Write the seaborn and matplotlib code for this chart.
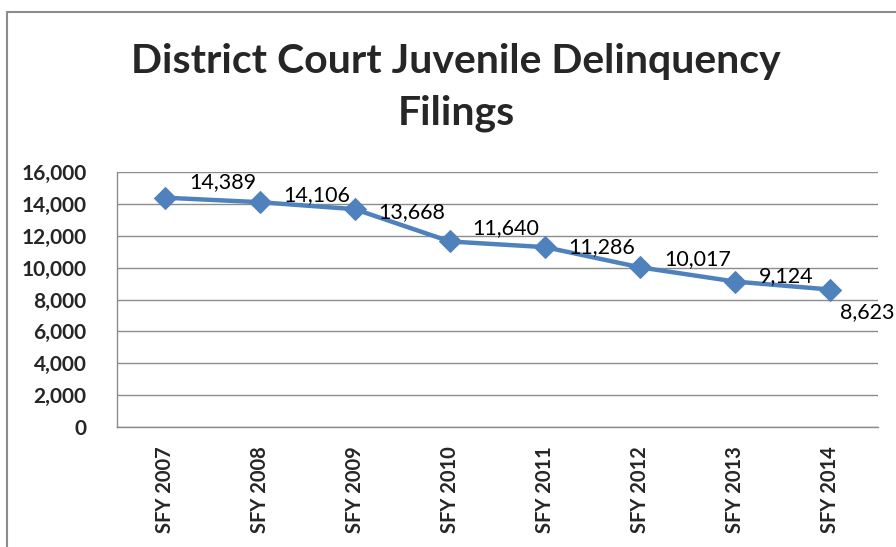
import matplotlib
matplotlib.use("Agg")
import matplotlib.pyplot as plt
from matplotlib.lines import Line2D
import seaborn as sns
import pandas as pd

# ---------------- Data ----------------
years = ["SFY 2007", "SFY 2008", "SFY 2009", "SFY 2010",
         "SFY 2011", "SFY 2012", "SFY 2013", "SFY 2014"]
filings = [14389, 14106, 13668, 11640, 11286, 10017, 9124, 8623]

# label nudges (points) as placed in the original chart
label_dx = [18, 17, 17, 16, 17, 17, 17, 7]
label_dy = [11, 5, -2, 10, 0, 6, 4, -16]

df = pd.DataFrame({"year": years, "filings": filings})

sns.set_style("white")
plt.rcParams["font.family"] = ["Lato", "DejaVu Sans"]

blue = "#4F81BD"
grid_c = "#8C8C8C"

fig = plt.figure(figsize=(8.96, 5.47), dpi=100)
ax = fig.add_axes([117 / 896, 1 - 427 / 547, 761 / 896, 255 / 547])

sns.lineplot(data=df, x="year", y="filings", ax=ax, color=blue, linewidth=3.2,
             marker="D", markersize=11.5, markeredgecolor=blue, sort=False)

ax.set_xlim(-0.5, len(years) - 0.5)
ax.set_ylim(0, 16000)
ax.set_yticks(range(0, 16001, 2000))
ax.yaxis.set_major_formatter(matplotlib.ticker.FuncFormatter(lambda v, p: f"{int(v):,}"))
ax.grid(axis="y", color=grid_c, linewidth=1)
ax.set_axisbelow(True)
ax.set_xlabel("")
ax.set_ylabel("")
ax.tick_params(axis="both", length=0)
ax.tick_params(axis="y", pad=22)
ax.tick_params(axis="x", pad=14)
for lab in ax.get_yticklabels():
    lab.set_fontsize(15)
    lab.set_fontweight("bold")
for lab in ax.get_xticklabels():
    lab.set_fontsize(14.5)
    lab.set_fontweight("bold")
    lab.set_rotation(90)

for s in ["top", "right"]:
    ax.spines[s].set_visible(False)
for s in ["left", "bottom"]:
    ax.spines[s].set_color(grid_c)
    ax.spines[s].set_linewidth(1)

for i, v in enumerate(filings):
    ax.annotate(f"{v:,}", (i, v), xytext=(label_dx[i], label_dy[i]),
                textcoords="offset points", ha="left", va="center",
                fontsize=15.5, color="black")

fig.text(456 / 896, 1 - 62 / 547, "District Court Juvenile Delinquency",
         ha="center", va="center", fontsize=29.5, fontweight="bold")
fig.text(456 / 896, 1 - 113 / 547, "Filings",
         ha="center", va="center", fontsize=29.5, fontweight="bold")

# outer chart border (extends past the right and bottom edge)
fig.add_artist(Line2D([7 / 896, 7 / 896], [0, 1 - 12 / 547],
                      transform=fig.transFigure, color="#8C8C8C", linewidth=1.5))
fig.add_artist(Line2D([7 / 896, 1], [1 - 12 / 547, 1 - 12 / 547],
                      transform=fig.transFigure, color="#8C8C8C", linewidth=1.5))

fig.savefig("out.png", dpi=100)
